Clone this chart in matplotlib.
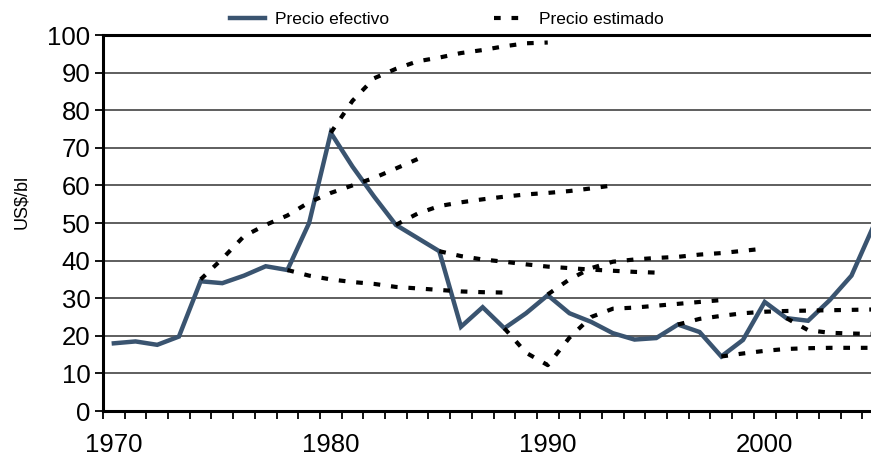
import matplotlib.pyplot as plt
import matplotlib.ticker as tk

'''Precio del petroleo: efectivo vs. estimado'''

plt.rcParams['font.family'] = ['Liberation Sans', 'DejaVu Sans']

years = list(range(1970, 2006))
precio = [18, 18.5, 17.6, 19.8, 34.5, 34, 36, 38.5, 37.5, 50,
          74, 65, 57, 49.5, 46, 42.5, 22.4, 27.6, 22, 26,
          30.8, 26, 23.7, 20.7, 19, 19.4, 23, 21, 14.5, 18.9,
          29, 24.7, 24, 29.5, 36, 49]

# estimated price paths: (start year, values)
est_1974 = [35, 40.5, 46.5, 49.5, 52, 55.5, 58, 60, 62, 64.5, 67]
est_1978 = [37.5, 36, 35, 34.3, 33.8, 33, 32.6, 32.2, 31.8, 31.6, 31.5]
est_1980 = [74, 82.5, 88.5, 91, 93, 94, 95.2, 96, 97, 97.8, 98]
est_1983 = [49.5, 52.5, 54.5, 55.5, 56.3, 57, 57.6, 58, 58.5, 59.2, 60]
est_1985 = [42.5, 41.2, 40.3, 39.7, 39, 38.4, 38, 37.6, 37.3, 37, 36.8]
est_1988 = [22, 15.5, 12.2, 19.5, 25, 27.2, 27.5, 28, 28.5, 29, 29.5]
est_1990 = [31, 35, 38, 39.7, 40.3, 40.7, 41, 41.6, 42, 42.6, 43.2]
est_1996 = [23, 24.5, 25.3, 26, 26.4, 26.6, 26.7, 26.8, 26.9, 27]
est_1998 = [14.5, 15.3, 16, 16.5, 16.7, 16.8, 16.8, 16.8]
est_2001 = [24.7, 21.5, 20.8, 20.6, 20.5]
estimados = [(1974, est_1974), (1978, est_1978), (1980, est_1980), (1983, est_1983),
             (1985, est_1985), (1988, est_1988), (1990, est_1990), (1996, est_1996),
             (1998, est_1998), (2001, est_2001)]

fig = plt.figure(figsize=(8.71, 4.61), dpi=100)
ax = fig.add_axes([103/871, 1-411/461, 1-103/871, (411-35)/461])

line_ef, = ax.plot(years, precio, color='#3a5470', linestyle='-', linewidth=3.2,
                   solid_joinstyle='miter', label='Precio efectivo', zorder=3)
for start, vals in estimados:
    line_es, = ax.plot(range(start, start+len(vals)), vals, color='black',
                       linestyle=(0, (1.6, 2.6)), linewidth=3, label='Precio estimado', zorder=4)

ax.set_xlim(1969.5, 2004.9)
ax.set_ylim(0, 100)
ax.set_yticks(range(0, 101, 10))
ax.yaxis.grid(True, color='#333333', linewidth=1.1)
ax.set_axisbelow(True)

ax.set_xticks([1970, 1980, 1990, 2000])
ax.xaxis.set_minor_locator(tk.FixedLocator([y + 0.5 for y in range(1969, 2005)]))
ax.tick_params(axis='x', which='major', length=0, pad=16, labelsize=18.5)
ax.tick_params(axis='x', which='minor', length=6, width=1.3)
ax.tick_params(axis='y', length=6, width=1.3, pad=3, labelsize=18.5)

for s in ['right']:
    ax.spines[s].set_visible(False)
for s in ['left', 'bottom', 'top']:
    ax.spines[s].set_linewidth(2.2)

fig.text(22/871, 1-202/461, 'US$/bl', rotation=90, fontsize=13, ha='center', va='center')

fig.legend([line_ef, line_es], ['Precio efectivo', 'Precio estimado'], loc='center',
           bbox_to_anchor=(0.513, 0.957), ncol=2, frameon=False, fontsize=12.5,
           handlelength=2.0, handletextpad=0.6, columnspacing=6.0)

plt.savefig('out.png', dpi=100)
